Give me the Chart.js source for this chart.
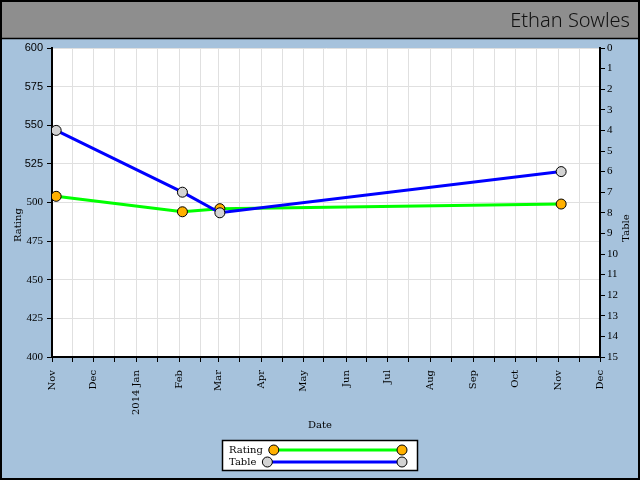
<!DOCTYPE html>
<html><head><meta charset="utf-8">
<script src="https://cdn.jsdelivr.net/npm/chart.js@4.4.0/dist/chart.umd.min.js"></script>
<style>html,body{margin:0;padding:0;background:#a6c2dc;overflow:hidden}#wrap{width:640px;height:480px}</style>
</head><body><div id="wrap"><canvas id="c" width="640" height="480"></canvas></div>
<script>
// ---- data ----
const titleText = 'Ethan Sowles';
const xTitle = 'Date';
const yTitle = 'Rating';
const y2Title = 'Table';
const dates = ['2013-11-04', '2014-02-03', '2014-03-02', '2014-11-03'];
const ratingValues = [504, 494, 496, 499];
const tableValues = [4, 7, 8, 6];
const monthTickDates = ['2013-11-01','2013-12-01','2014-01-01','2014-02-01','2014-03-01','2014-04-01','2014-05-01','2014-06-01','2014-07-01','2014-08-01','2014-09-01','2014-10-01','2014-11-01','2014-12-01'];
const monthTickLabels = ['Nov','Dec','2014 Jan','Feb','Mar','Apr','May','Jun','Jul','Aug','Sep','Oct','Nov','Dec'];
const ratingRange = [400, 600, 25];
const tableRange = [0, 15, 1];

// ---- helpers ----
const t = s => Date.parse(s + 'T00:00:00Z');
const labelMap = new Map();
const xTicks = [];
monthTickDates.forEach((d, i) => {
  const v = t(d);
  labelMap.set(v, monthTickLabels[i]);
  xTicks.push(v);
  if (i < monthTickDates.length - 1) {
    const dt = new Date(v);
    xTicks.push(Date.UTC(dt.getUTCFullYear(), dt.getUTCMonth(), 16));
  }
});

const SERIF = 'DejaVu Serif';

const decor = {
  id: 'decor',
  beforeDraw(chart) {
    const ctx = chart.ctx, a = chart.chartArea;
    ctx.save();
    ctx.fillStyle = '#a6c2dc';
    ctx.fillRect(0, 0, chart.width, chart.height);
    ctx.fillStyle = '#8e8e8e';
    ctx.fillRect(0, 0, chart.width, 38);
    ctx.strokeStyle = '#000';
    ctx.lineWidth = 1.5;
    ctx.beginPath(); ctx.moveTo(0, 38.5); ctx.lineTo(chart.width, 38.5); ctx.stroke();
    ctx.fillStyle = '#fff';
    ctx.fillRect(a.left, a.top, a.right - a.left, a.bottom - a.top);
    ctx.restore();
  },
  afterDraw(chart) {
    const ctx = chart.ctx;
    ctx.save();
    // outer frame
    ctx.strokeStyle = '#000';
    ctx.lineWidth = 2;
    ctx.strokeRect(1, 1, chart.width - 2, chart.height - 2);
    // axis titles
    ctx.fillStyle = '#000';
    ctx.font = '10px "' + SERIF + '"';
    ctx.textAlign = 'center';
    ctx.textBaseline = 'middle';
    ctx.fillText(xTitle, 320, 425);
    ctx.save(); ctx.translate(18, 225); ctx.rotate(-Math.PI / 2); ctx.fillText(yTitle, 0, 0); ctx.restore();
    ctx.save(); ctx.translate(626, 228); ctx.rotate(-Math.PI / 2); ctx.fillText(y2Title, 0, 0); ctx.restore();
    // legend
    const bx = 222, by = 440, bw = 196, bh = 31;
    ctx.fillStyle = '#fff';
    ctx.fillRect(bx, by, bw, bh);
    ctx.strokeStyle = '#000';
    ctx.lineWidth = 1.5;
    ctx.strokeRect(bx + 0.5, by + 0.5, bw - 1, bh - 1);
    const rows = [450, 462];
    chart.data.datasets.forEach((ds, i) => {
      const y = rows[i];
      ctx.font = '10px "' + SERIF + '"';
      ctx.fillStyle = '#000';
      ctx.textAlign = 'left';
      ctx.textBaseline = 'middle';
      ctx.fillText(ds.label, 229, y);
      const x1 = 229 + ctx.measureText(ds.label).width + 11, x2 = 402;
      ctx.strokeStyle = ds.borderColor;
      ctx.lineWidth = 3;
      ctx.beginPath(); ctx.moveTo(x1, y); ctx.lineTo(x2, y); ctx.stroke();
      [x1, x2].forEach(x => {
        ctx.beginPath(); ctx.arc(x, y, 5, 0, Math.PI * 2);
        ctx.fillStyle = ds.pointBackgroundColor; ctx.fill();
        ctx.strokeStyle = '#000'; ctx.lineWidth = 1; ctx.stroke();
      });
    });
    ctx.restore();
  }
};

new Chart(document.getElementById('c'), {
  type: 'line',
  data: {
    datasets: [
      {
        label: 'Rating',
        data: dates.map((d, i) => ({ x: t(d), y: ratingValues[i] })),
        yAxisID: 'y',
        borderColor: '#00ff00',
        borderWidth: 3,
        pointBackgroundColor: '#ffb000',
        pointBorderColor: '#000',
        pointBorderWidth: 1,
        pointRadius: 5,
        tension: 0,
        order: 2
      },
      {
        label: 'Table',
        data: dates.map((d, i) => ({ x: t(d), y: tableValues[i] })),
        yAxisID: 'y2',
        borderColor: '#0000ff',
        borderWidth: 3,
        pointBackgroundColor: '#d3d3d3',
        pointBorderColor: '#000',
        pointBorderWidth: 1,
        pointRadius: 5,
        tension: 0,
        order: 1
      }
    ]
  },
  options: {
    responsive: false,
    animation: false,
    devicePixelRatio: 1,
    events: [],
    layout: { padding: { top: 0, left: 0, right: 10, bottom: 43 } },
    plugins: {
      legend: { display: false },
      tooltip: { enabled: false },
      title: {
        display: true,
        text: titleText,
        align: 'end',
        color: '#111',
        font: { family: 'Noto Sans', size: 20, weight: '300' },
        padding: { top: 9, bottom: 15 }
      }
    },
    scales: {
      x: {
        type: 'linear',
        min: t(monthTickDates[0]),
        max: t(monthTickDates[monthTickDates.length - 1]),
        afterBuildTicks: s => { s.ticks = xTicks.map(v => ({ value: v })); },
        afterFit: s => { s.height = 80; },
        ticks: {
          autoSkip: false, minRotation: 90, maxRotation: 90, padding: 8, color: '#000',
          font: { family: SERIF, size: 10 },
          callback: v => labelMap.has(v) ? labelMap.get(v) : ''
        },
        grid: { color: '#e0e0e0', tickColor: '#000', tickLength: 5, lineWidth: 1 },
        border: { color: '#000', width: 2 }
      },
      y: {
        position: 'left',
        min: ratingRange[0], max: ratingRange[1],
        afterFit: s => { s.width = 52; },
        ticks: {
          stepSize: ratingRange[2], padding: 4, color: '#000',
          font: c => ({ family: (c.tick && c.tick.value >= 525) ? 'Liberation Sans' : 'Liberation Serif', size: 11 })
        },
        grid: { color: '#e0e0e0', tickColor: '#000', tickLength: 5 },
        border: { color: '#000', width: 2 }
      },
      y2: {
        position: 'right',
        min: tableRange[0], max: tableRange[1], reverse: true,
        afterFit: s => { s.width = 30; },
        ticks: { stepSize: tableRange[2], padding: 2, color: '#000', font: { family: 'Liberation Serif', size: 11 } },
        grid: { drawOnChartArea: false, tickColor: '#000', tickLength: 5 },
        border: { color: '#000', width: 2 }
      }
    }
  },
  plugins: [decor]
});
</script>
</body></html>
